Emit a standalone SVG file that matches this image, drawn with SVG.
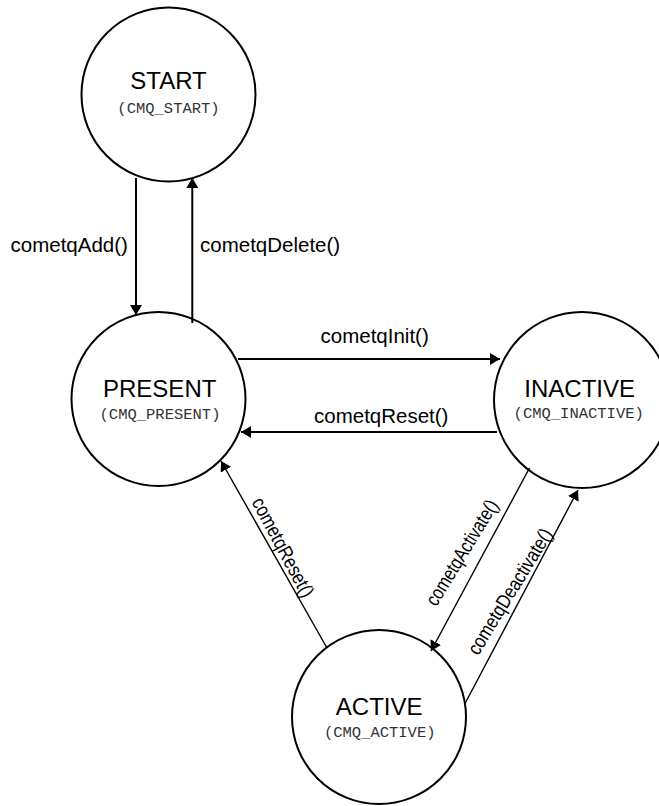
<svg xmlns="http://www.w3.org/2000/svg" width="659" height="806" viewBox="0 0 659 806">
<defs>
<style>
.node circle{fill:#fff;stroke:#000;stroke-width:2}
.name{font-family:"Liberation Sans",Arial,sans-serif;font-size:24px;text-anchor:middle;fill:#000}
.code{font-family:"Liberation Mono","Courier New",monospace;font-size:15.5px;text-anchor:middle;fill:#333}
.edge line{stroke:#000;fill:none}
.hv{stroke-width:2}
.dg{stroke-width:1.4}
.lbl{font-family:"Liberation Sans",Arial,sans-serif;font-size:20.5px;fill:#000}
.dlbl{font-family:"Liberation Sans",Arial,sans-serif;font-size:20px;fill:#000;text-anchor:middle}
</style>
<marker id="arr" markerUnits="userSpaceOnUse" markerWidth="12" markerHeight="12" refX="10" refY="6" orient="auto">
<path d="M0,0 L10,6 L0,12 Z" fill="#000"/>
</marker>
</defs>
<rect width="659" height="806" fill="#fff"/>
<g id="start" class="node">
<circle cx="168.5" cy="94.5" r="87"/>
<text class="name" x="168.5" y="89">START</text>
<text class="code" x="168.5" y="112.5">(CMQ_START)</text>
</g>
<g id="present" class="node">
<circle cx="158.5" cy="399" r="87"/>
<text class="name" x="159.7" y="396.7">PRESENT</text>
<text class="code" x="160" y="419">(CMQ_PRESENT)</text>
</g>
<g id="inactive" class="node">
<circle cx="582" cy="400" r="88"/>
<text class="name" x="579.7" y="396.7">INACTIVE</text>
<text class="code" x="578.7" y="418.3">(CMQ_INACTIVE)</text>
</g>
<g id="active" class="node">
<circle cx="379" cy="717" r="87"/>
<text class="name" x="379.2" y="715">ACTIVE</text>
<text class="code" x="379.7" y="737.3">(CMQ_ACTIVE)</text>
</g>
<g id="connectors" class="edge">
<line class="hv" x1="136" y1="178" x2="136" y2="315" marker-end="url(#arr)"/>
<line class="hv" x1="192.3" y1="323" x2="192.3" y2="178" marker-end="url(#arr)"/>
<line class="hv" x1="238" y1="359" x2="500" y2="359" marker-end="url(#arr)"/>
<line class="hv" x1="497" y1="432" x2="241" y2="432" marker-end="url(#arr)"/>
<line class="dg" x1="327" y1="648" x2="221" y2="461" marker-end="url(#arr)"/>
<line class="dg" x1="529.5" y1="468" x2="431" y2="651" marker-end="url(#arr)"/>
<line class="dg" x1="465" y1="703.5" x2="578" y2="490" marker-end="url(#arr)"/>
<text class="lbl" x="10.5" y="252">cometqAdd()</text>
<text class="lbl" x="200" y="252">cometqDelete()</text>
<text class="lbl" x="320.5" y="343">cometqInit()</text>
<text class="lbl" x="314" y="423">cometqReset()</text>
<text class="dlbl" transform="translate(277.1,550.7) rotate(62) scale(0.84,1)">cometqReset()</text>
<text class="dlbl" transform="translate(467.7,556.1) rotate(-58.5) scale(0.8,1)">cometqActivate()</text>
<text class="dlbl" transform="translate(515.7,594.9) rotate(-58.5) scale(0.83,1)">cometqDeactivate()</text>
</g>
</svg>
